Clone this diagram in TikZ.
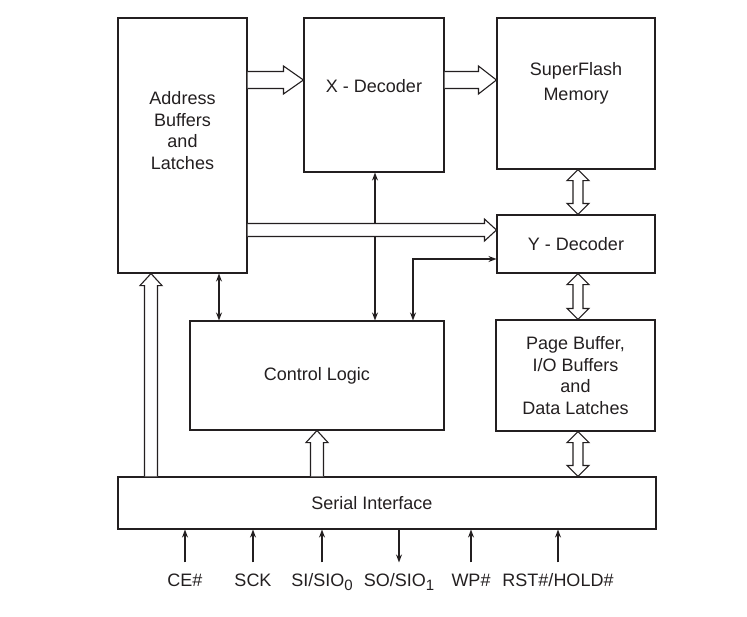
\documentclass[tikz,border=0pt]{standalone}
\usepackage{fontspec}
\setmainfont{Liberation Sans}
\usetikzlibrary{arrows.meta, calc}
\definecolor{ink}{HTML}{231F20}

\begin{document}
\begin{tikzpicture}[x=1pt, y=-1pt, color=ink, line width=1.1pt, font=\fontsize{18}{21.7}\selectfont, >={Stealth[length=8pt,width=6pt]},
    blk/.style={draw, inner sep=0pt, align=center},
    sig/.style={anchor=base, inner sep=0pt, text height=12pt},
    fat/.style={fill=white, line join=miter},
    fatright/.style args={#1/#2/#3}{to path={($(\tikztostart)+(0pt,#1)$) -- ($(\tikztotarget)+(-#3,#1)$) -- ($(\tikztotarget)+(-#3,#2)$) -- (\tikztotarget) -- ($(\tikztotarget)+(-#3,-#2)$) -- ($(\tikztotarget)+(-#3,-#1)$) -- ($(\tikztostart)+(0pt,-#1)$)}},
    fatup/.style args={#1/#2/#3}{to path={($(\tikztostart)+(-#1,0pt)$) -- ($(\tikztotarget)+(-#1,-#3)$) -- ($(\tikztotarget)+(-#2,-#3)$) -- (\tikztotarget) -- ($(\tikztotarget)+(#2,-#3)$) -- ($(\tikztotarget)+(#1,-#3)$) -- ($(\tikztostart)+(#1,0pt)$)}},
    fatboth/.style args={#1/#2/#3}{to path={(\tikztostart) -- ($(\tikztostart)+(#2,-#3)$) -- ($(\tikztostart)+(#1,-#3)$) -- ($(\tikztotarget)+(#1,#3)$) -- ($(\tikztotarget)+(#2,#3)$) -- (\tikztotarget) -- ($(\tikztotarget)+(-#2,#3)$) -- ($(\tikztotarget)+(-#1,#3)$) -- ($(\tikztostart)+(-#1,-#3)$) -- ($(\tikztostart)+(-#2,-#3)$) -- cycle}}]
    \useasboundingbox (0,0) rectangle (747,616);

    % blocks
    \node[blk, minimum width=129pt, minimum height=255pt] (addr) at (182.5,145.5) {};
    \node[align=center] (addrtxt) at ([yshift=15pt]addr.center) {Address\\Buffers\\and\\Latches};
    \node[blk, minimum width=140pt, minimum height=154pt] (xdec) at (374,95) {};
    \node (xdectxt) at ([yshift=9pt]xdec.center) {X - Decoder};
    \node[blk, minimum width=158pt, minimum height=151pt] (mem) at (576,93.5) {};
    \node[align=center] (memtxt) at ([yshift=10pt]mem.center) {SuperFlash\\[3pt]Memory};
    \node[blk, minimum width=158pt, minimum height=58pt] (ydec) at (576,244) {Y - Decoder};
    \node[blk, minimum width=254pt, minimum height=109pt] (ctrl) at (317,375.5) {Control Logic};
    \node[blk, minimum width=159pt, minimum height=111pt] (pbuf) at (575.5,375.5) {Page Buffer,\\I/O Buffers\\and\\Data Latches};
    \node[blk, minimum width=538pt, minimum height=52pt] (serial) at (387,503) {};
    \node (serialtxt) at ([xshift=-15pt]serial.center) {Serial Interface};

    % pins
    \node[sig] (ce) at (185,586) {CE\#};
    \node[sig] (sck) at (253,586) {SCK};
    \node[sig] (si) at (322,586) {SI/SIO\raisebox{-4pt}{\fontsize{15}{15}\selectfont 0}};
    \node[sig] (so) at (399,586) {SO/SIO\raisebox{-4pt}{\fontsize{15}{15}\selectfont 1}};
    \node[sig] (wp) at (471,586) {WP\#};
    \node[sig] (rst) at (558,586) {RST\#/HOLD\#};
    \foreach \p in {ce, sck, si, wp, rst}
        \draw[->, shorten <=11pt] (\p.north) -- (\p.north |- serial.south);
    \draw[->, shorten >=11pt] (so.north |- serial.south) -- (so.north);

    % thin control lines
    \draw[<->] (addr.south -| 219,0) -- (ctrl.north -| 219,0);
    \draw[<->] (xdec.south -| 375,0) -- (ctrl.north -| 375,0);
    \draw[<->] (ctrl.north -| 413,0) |- ([yshift=-15pt]ydec.west);

    % buses
    \draw[fat, fatright=8.5pt/14pt/20pt] (addr.east |- 0,80) to (xdec.west |- 0,80);
    \draw[fat, fatright=8.5pt/14pt/18pt] (xdec.east |- 0,80) to (mem.west |- 0,80);
    \draw[fat, fatright=6.5pt/11pt/12pt] (addr.east |- 0,230) to (ydec.west |- 0,230);
    \draw[fat, fatup=6.5pt/11pt/12pt] (serial.north -| 151,0) to (addr.south -| 151,0);
    \draw[fat, fatup=6.5pt/11pt/12pt] (serial.north -| ctrl.south) to (ctrl.south);
    \draw[fat, fatboth=5pt/11pt/11pt] (mem.south -| 578,0) to (ydec.north -| 578,0);
    \draw[fat, fatboth=5pt/11pt/11pt] (ydec.south -| 578,0) to (pbuf.north -| 578,0);
    \draw[fat, fatboth=5pt/11pt/11pt] (pbuf.south -| 578,0) to (serial.north -| 578,0);
\end{tikzpicture}
\end{document}
